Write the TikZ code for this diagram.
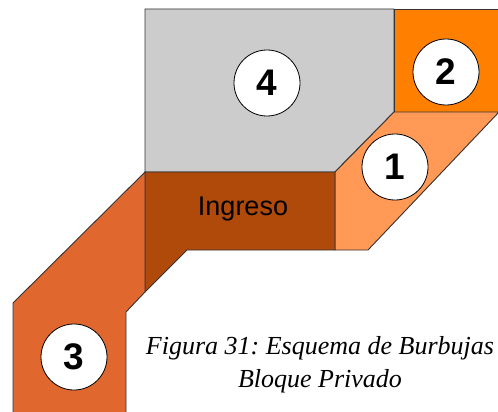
\documentclass[tikz,border=0pt]{standalone}
\usepackage{fontspec}
\setmainfont{Liberation Serif}
\newfontfamily\arialfont{Liberation Sans}
\usepackage{tikz}
\frenchspacing
\definecolor{zonegray}{HTML}{CCCCCC}
\definecolor{zoneorange}{HTML}{FF8000}
\definecolor{zonelight}{HTML}{FF9955}
\definecolor{zonebrown}{HTML}{AF4A0B}
\definecolor{zonerust}{HTML}{E0682F}
\tikzset{
  zone/.style={draw=black!80,line width=0.9pt,line join=miter},
  bubble/.style={circle,draw=black,fill=white,line width=0.8pt,minimum size=66pt,inner sep=0pt,
    font=\arialfont\fontsize{37}{37}\selectfont\bfseries},
  caption/.style={anchor=base,font=\fontsize{26}{33}\selectfont\itshape},
}

\begin{document}
\begin{tikzpicture}[x=1pt,y=-1pt]

  \useasboundingbox (0,0) rectangle (498,412);
  \clip (0,0) rectangle (498,412);
  % zone 4
  \filldraw[zone,fill=zonegray] (145,9) -- (394,9) -- (394,112) -- (335,172) -- (145,172) -- cycle;
  % zone 2
  \filldraw[zone,fill=zoneorange] (394,9) -- (510,9) -- (510,112) -- (394,112) -- cycle;
  % zone 1
  \filldraw[zone,fill=zonelight] (394,112) -- (499,112) -- (368,250) -- (335,250) -- (335,172) -- cycle;
  % ingreso
  \filldraw[zone,fill=zonebrown] (145,172) -- (335,172) -- (335,250) -- (187,250) -- (145,292) -- cycle;
  % zone 3
  \filldraw[zone,fill=zonerust] (145,172) -- (145,292) -- (126,312) -- (126,420) -- (13,420) -- (13,303) -- cycle;
  \node[font=\arialfont\fontsize{27}{27}\selectfont] (ingreso) at (243,209) {Ingreso};
  % bubbles
  \node[bubble] (b4) at (267,83) {4};
  \node[bubble] (b2) at (446,72) {2};
  \node[bubble] (b1) at (395,167) {1};
  \node[bubble] (b3) at (74,357) {3};
  % caption
  \node[caption] (cap1) at (320,354) {Figura 31: Esquema de Burbujas};
  \node[caption] (cap2) at (320,387) {Bloque Privado};
\end{tikzpicture}
\end{document}
